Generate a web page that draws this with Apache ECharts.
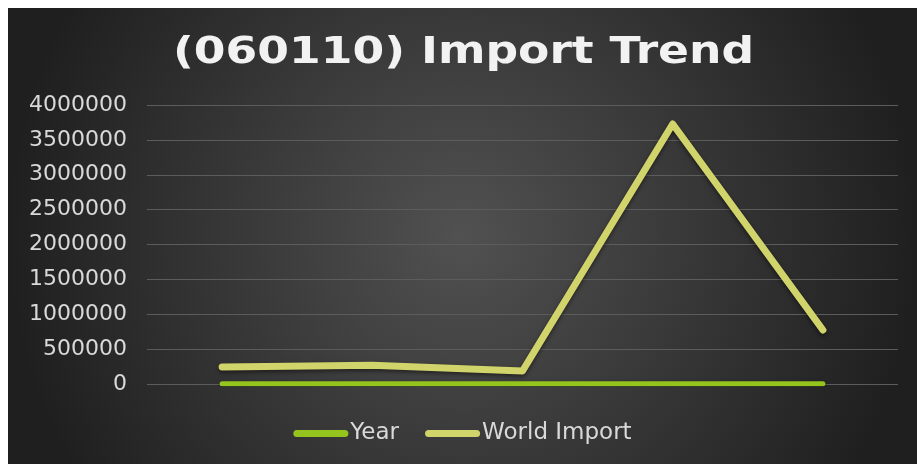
<!DOCTYPE html>
<html><head><meta charset="utf-8">
<script src="https://cdn.jsdelivr.net/npm/echarts@6/dist/echarts.min.js"></script>
<style>html,body{margin:0;padding:0;background:#fff;width:917px;height:464px;overflow:hidden}
#c{position:absolute;left:8px;top:8px;width:909px;height:456px}</style>
</head><body><div id="c"></div>
<script>
const titleText = '(060110) Import Trend';
const categories = ['1','2','3','4','5'];
const yearValues = [2014, 2015, 2016, 2017, 2018];
const worldImport = [244000, 268000, 186000, 3727000, 774000];
const yTicks = [0, 500000, 1000000, 1500000, 2000000, 2500000, 3000000, 3500000, 4000000];

const chart = echarts.init(document.getElementById('c'), null, {renderer:'canvas'});
const legendIcon = 'path://M3.5,0 H51.5 A3.5,3.5 0 0 1 51.5,7 H3.5 A3.5,3.5 0 0 1 3.5,0 Z';
chart.setOption({
  backgroundColor: {type:'radial', x:0.5, y:0.5, r:1.0, colorStops:[{offset:0,color:'#515151'},{offset:1,color:'#1f1f1f'}]},
  animation:false,
  graphic:[{type:'text', x:165, y:26, scaleX:1.2, scaleY:1,
    style:{text:titleText, fill:'#f2f2f2', font:'bold 38px "DejaVu Sans"',
      textVerticalAlign:'top', shadowColor:'rgba(0,0,0,0.7)', shadowBlur:4, shadowOffsetY:2}}],
  legend:{bottom:14, left:'center', itemWidth:55, itemHeight:7, itemGap:26,
    textStyle:{color:'#d9d9d9', fontFamily:'DejaVu Sans', fontSize:23, padding:[0,0,0,-3]},
    data:[{name:'Year', icon:legendIcon},{name:'World Import', icon:legendIcon}]},
  grid:{left:139, right:19, top:97, bottom:80, containLabel:false},
  xAxis:{type:'category', data:categories, boundaryGap:true,
    axisLine:{show:false}, axisTick:{show:false}, axisLabel:{show:false}, splitLine:{show:false}},
  yAxis:{type:'value', min:yTicks[0], max:yTicks[yTicks.length-1], interval:500000,
    axisLine:{show:false}, axisTick:{show:false},
    axisLabel:{color:'#d9d9d9', fontFamily:'DejaVu Sans', fontSize:22, margin:20,
      formatter: v => String(v)},
    splitLine:{lineStyle:{color:'#5c5c5c', width:1}}},
  series:[
    {name:'Year', type:'line', data:yearValues, showSymbol:false, symbol:'none',
      itemStyle:{color:'#95c41f'},
      lineStyle:{color:'#95c41f', width:5, cap:'round', join:'round',
        shadowColor:'rgba(0,0,0,0.5)', shadowBlur:4, shadowOffsetY:2}},
    {name:'World Import', type:'line', data:worldImport, showSymbol:false, symbol:'none',
      itemStyle:{color:'#d0d46a'},
      lineStyle:{color:'#d0d46a', width:7, cap:'round', join:'round',
        shadowColor:'rgba(0,0,0,0.5)', shadowBlur:4, shadowOffsetY:2}}
  ]
});
</script></body></html>
